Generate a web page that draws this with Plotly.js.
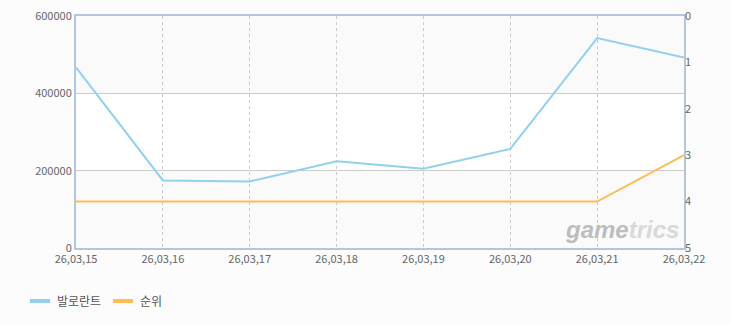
<!DOCTYPE html>
<html><head><meta charset="utf-8">
<script src="https://cdn.plot.ly/plotly-3.0.1.min.js"></script>
<style>html,body{margin:0;padding:0;background:#fcfcfc;}#chart{width:730px;height:325px;}</style>
</head><body><div id="chart"></div>
<script>
const dates = ["26,03,15","26,03,16","26,03,17","26,03,18","26,03,19","26,03,20","26,03,21","26,03,22"];
const players = [467000, 174800, 172200, 224200, 205200, 256400, 542900, 492700];
const rank = [4, 4, 4, 4, 4, 4, 4, 3];
const seriesNames = ["발로란트", "순위"];
const seriesColors = ["#92d0f0", "#ffbb55"];

const tickFont = {family: "Noto Sans CJK KR, Liberation Sans, sans-serif", size: 11, color: "#666"};
const traces = [
  {x: dates, y: players, name: seriesNames[0], type: "scatter", mode: "lines",
   line: {color: seriesColors[0], width: 2}, yaxis: "y"},
  {x: dates, y: rank, name: seriesNames[1], type: "scatter", mode: "lines",
   line: {color: seriesColors[1], width: 2}, yaxis: "y2"}
];

// plot-area pixel geometry helpers for the hand-made legend
const PL = 76, PW = 608, PB = 248, PH = 232;
const px = v => (v - PL) / PW;
const py = v => (PB - v) / PH;

const legendShapes = [
  {type: "line", xref: "paper", yref: "paper", x0: px(30), x1: px(50), y0: py(301), y1: py(301),
   line: {color: seriesColors[0], width: 4}},
  {type: "line", xref: "paper", yref: "paper", x0: px(113), x1: px(133), y0: py(301), y1: py(301),
   line: {color: seriesColors[1], width: 4}}
];
const legendFont = {family: "Noto Sans CJK KR, sans-serif", size: 12, color: "#555"};
const legendAnn = [
  {xref: "paper", yref: "paper", x: px(55), y: py(300), xanchor: "left", yanchor: "middle", showarrow: false,
   text: seriesNames[0], font: legendFont},
  {xref: "paper", yref: "paper", x: px(138), y: py(300), xanchor: "left", yanchor: "middle", showarrow: false,
   text: seriesNames[1], font: legendFont}
];

const layout = {
  width: 730, height: 325,
  margin: {l: 76, r: 46, t: 16, b: 77, autoexpand: false},
  paper_bgcolor: "#fcfcfc", plot_bgcolor: "#ffffff",
  showlegend: false,
  xaxis: {type: "category", range: [0, 7], showgrid: true, gridcolor: "#cccccc", griddash: "3px,3px", gridwidth: 1,
    showline: true, mirror: true, linecolor: "#b4c6da", linewidth: 2, ticks: "", tickfont: tickFont,
    zeroline: false, fixedrange: true},
  yaxis: {range: [0, 600000], dtick: 200000, tickformat: "d", showgrid: true, gridcolor: "#cccccc", gridwidth: 1,
    showline: true, mirror: true, linecolor: "#b4c6da", linewidth: 2, ticks: "", tickfont: tickFont, zeroline: false},
  yaxis2: {overlaying: "y", side: "right", range: [5, 0], dtick: 1, showgrid: false, zeroline: false,
    ticks: "", tickfont: tickFont, showline: false},
  shapes: [
    {type: "rect", xref: "paper", yref: "y", x0: 0, x1: 1, y0: 400000, y1: 600000, fillcolor: "#fafafa", line: {width: 0}, layer: "below"},
    {type: "rect", xref: "paper", yref: "y", x0: 0, x1: 1, y0: 0, y1: 200000, fillcolor: "#fafafa", line: {width: 0}, layer: "below"}
  ].concat(legendShapes),
  annotations: [
    {xref: "paper", yref: "paper", x: px(622), y: py(229), xanchor: "center", yanchor: "middle", showarrow: false,
     text: "<b><i><span style='color:#bdbdbd'>game</span><span style='color:#d9d9d9'>trics</span></i></b>",
     font: {family: "Liberation Sans, Arial, sans-serif", size: 24}}
  ].concat(legendAnn)
};
Plotly.newPlot("chart", traces, layout, {displayModeBar: false, staticPlot: true});
</script></body></html>
